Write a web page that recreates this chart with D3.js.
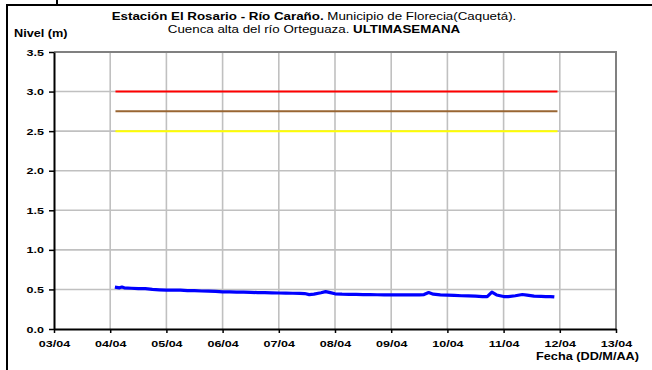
<!DOCTYPE html>
<html>
<head>
<meta charset="utf-8">
<title>Nivel Rio Carano</title>
<script src="https://cdn.jsdelivr.net/npm/d3@7"></script>
<style>
  body { margin: 0; background: #fff; }
  svg { font-family: "Liberation Sans", Arial, sans-serif; }
  .tick text { font-weight: bold; font-size: 9.5px; fill: #000; }
</style>
</head>
<body>
<div id="chart"></div>
<script>
// ---- data ----
var dayTicks = ["03/04","04/04","05/04","06/04","07/04","08/04","09/04","10/04","11/04","12/04","13/04"]
var levelTicks = [0, 0.5, 1.0, 1.5, 2.0, 2.5, 3.0, 3.5]

// thresholds: red, brown (orange alert), yellow
var thresholdValues = [3.0, 2.75, 2.5]
var thresholdColors = ["#ff0000", "#996633", "#ffff00"]
var thresholdStart = "04/04 02:15"
var thresholdEnd = "11/04 23:00"

// blue line: nivel (m)
var nivelTimes = [
  "04/04 02:00","04/04 04:00","04/04 05:00","04/04 06:00","04/04 09:00","04/04 12:00","04/04 15:00","04/04 18:00","04/04 21:00",
  "05/04 00:00","05/04 03:00","05/04 06:00","05/04 09:00","05/04 12:00","05/04 15:00","05/04 18:00","05/04 21:00",
  "06/04 00:00","06/04 03:00","06/04 06:00","06/04 09:00","06/04 12:00","06/04 15:00","06/04 18:00","06/04 21:00",
  "07/04 00:00","07/04 03:00","07/04 06:00","07/04 09:00","07/04 11:00","07/04 13:00","07/04 15:00","07/04 18:00","07/04 20:00","07/04 22:00",
  "08/04 00:00","08/04 03:00","08/04 06:00","08/04 09:00","08/04 12:00","08/04 15:00","08/04 18:00","08/04 21:00",
  "09/04 00:00","09/04 03:00","09/04 06:00","09/04 09:00","09/04 12:00","09/04 14:00","09/04 16:00","09/04 18:00","09/04 21:00",
  "10/04 00:00","10/04 03:00","10/04 06:00","10/04 09:00","10/04 12:00","10/04 15:00","10/04 17:00","10/04 19:00","10/04 21:00",
  "11/04 00:00","11/04 02:00","11/04 05:00","11/04 08:00","11/04 10:00","11/04 13:00","11/04 16:00","11/04 18:00","11/04 20:00","11/04 21:40"
]
var nivelValues = [
  0.53, 0.52, 0.53, 0.52, 0.515, 0.51, 0.51, 0.50, 0.495,
  0.49, 0.49, 0.49, 0.485, 0.485, 0.48, 0.478, 0.475,
  0.47, 0.468, 0.467, 0.465, 0.463, 0.46, 0.46, 0.457,
  0.455, 0.453, 0.452, 0.45, 0.448, 0.435, 0.44, 0.458, 0.472, 0.46,
  0.445, 0.44, 0.438, 0.437, 0.435, 0.435, 0.433, 0.432,
  0.432, 0.43, 0.43, 0.43, 0.43, 0.435, 0.46, 0.44, 0.432,
  0.428, 0.425, 0.42, 0.418, 0.415, 0.41, 0.408, 0.465, 0.43,
  0.41, 0.408, 0.42, 0.436, 0.428, 0.415, 0.412, 0.41, 0.41, 0.405
]

var W = 652, H = 370
var margin = {left: 54, top: 52, right: 36, bottom: 41}
var stretch = 1.32   // the original text is drawn wide

var parseT = d3.timeParse("%d/%m %H:%M")
var parseD = d3.timeParse("%d/%m")

var svg = d3.select("#chart").append("svg")
    .attr("width", W)
    .attr("height", H)

// outer frame (runs off the right and bottom)
svg.append("rect")
    .attr("x", 7).attr("y", 5)
    .attr("width", W + 20).attr("height", H + 20)
    .attr("fill", "none").attr("stroke", "#000").attr("stroke-width", 2)
svg.append("line")
    .attr("x1", 57).attr("x2", 57).attr("y1", 0).attr("y2", 4)
    .attr("stroke", "#000").attr("stroke-width", 2)

var x = d3.scaleTime()
    .domain([parseD("03/04"), parseD("13/04")])
    .range([margin.left, W - margin.right])
var y = d3.scaleLinear()
    .domain([0, 3.5])
    .range([H - margin.bottom, margin.top])

var dayDates = dayTicks.map(function(d){ return parseD(d) })

// grid
svg.append("g").selectAll("line")
    .data(dayDates.slice(1, -1))
    .enter().append("line")
    .attr("x1", d => x(d)).attr("x2", d => x(d))
    .attr("y1", y(0)).attr("y2", y(3.5))
    .attr("stroke", "#c0c0c0").attr("stroke-width", 1.6)
svg.append("g").selectAll("line")
    .data(levelTicks.slice(1, -1))
    .enter().append("line")
    .attr("x1", x.range()[0]).attr("x2", x.range()[1])
    .attr("y1", d => y(d)).attr("y2", d => y(d))
    .attr("stroke", "#c0c0c0").attr("stroke-width", 1.6)

// plot border top / right (gray)
svg.append("path")
    .attr("d", "M" + x.range()[0] + "," + y(3.5) + "H" + x.range()[1] + "V" + y(0))
    .attr("fill", "none").attr("stroke", "#808080").attr("stroke-width", 2)

// thresholds
thresholdValues.forEach(function(v, i) {
    svg.append("line")
        .attr("x1", x(parseT(thresholdStart))).attr("x2", x(parseT(thresholdEnd)))
        .attr("y1", y(v)).attr("y2", y(v))
        .attr("stroke", thresholdColors[i]).attr("stroke-width", 2)
})

// nivel
var nivel = nivelTimes.map(function(t, i){ return {t: parseT(t), v: nivelValues[i]} })
svg.append("path")
    .datum(nivel)
    .attr("fill", "none")
    .attr("stroke", "#0000ff")
    .attr("stroke-width", 3.2)
    .attr("stroke-linejoin", "round")
    .attr("d", d3.line().x(d => x(d.t)).y(d => y(d.v)))

// axes
var xAxis = svg.append("g")
    .attr("transform", "translate(0," + y(0) + ")")
    .call(d3.axisBottom(x).tickValues(dayDates).tickFormat(d3.timeFormat("%d/%m")).tickSize(4).tickSizeOuter(0))
xAxis.select(".domain").attr("stroke-width", 2)
xAxis.selectAll(".tick line").attr("stroke-width", 1.5)
xAxis.selectAll(".tick text").attr("y", 9).attr("dy", "0.9em")
    .attr("transform", "scale(" + stretch + ",1)")

var yAxis = svg.append("g")
    .attr("transform", "translate(" + x.range()[0] + ",0)")
    .call(d3.axisLeft(y).tickValues(levelTicks).tickFormat(d3.format(".1f")).tickSize(5).tickSizeOuter(0))
yAxis.select(".domain").attr("stroke-width", 2)
yAxis.selectAll(".tick line").attr("stroke-width", 1.5)
yAxis.selectAll(".tick text").attr("x", -10 / stretch)
    .attr("transform", "scale(" + stretch + ",1)")

// titles
function wideText(tx, ty, anchor, size) {
    return svg.append("text")
        .attr("transform", "translate(" + tx + "," + ty + ") scale(" + (stretch - 0.05) + ",1)")
        .attr("text-anchor", anchor).attr("font-size", size)
}
var t1 = wideText(314, 20, "middle", 10.5)
t1.append("tspan").attr("font-weight", "bold").text("Estación El Rosario - Río Caraño.")
t1.append("tspan").text(" Municipio de Florecia(Caquetá).")
var t2 = wideText(314, 33, "middle", 10.5)
t2.append("tspan").text("Cuenca alta del río Orteguaza. ")
t2.append("tspan").attr("font-weight", "bold").text("ULTIMASEMANA")

wideText(14, 37, "start", 10).attr("font-weight", "bold").text("Nivel (m)")
wideText(639, 360, "end", 10).attr("font-weight", "bold").text("Fecha (DD/M/AA)")
</script>
</body>
</html>
